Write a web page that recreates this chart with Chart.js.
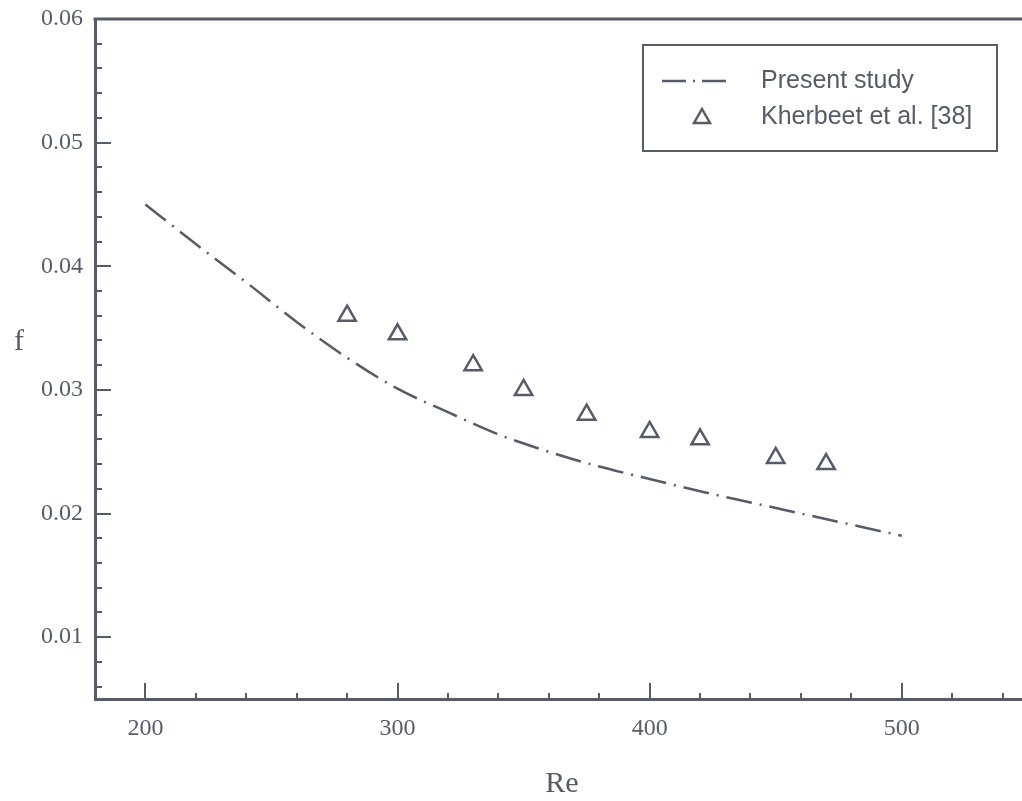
<!DOCTYPE html>
<html>
<head>
<meta charset="utf-8">
<script src="https://cdn.jsdelivr.net/npm/chart.js@4.4.1/dist/chart.umd.min.js"></script>
<style>
    html, body { margin: 0; padding: 0; background: #fff; overflow: hidden; }
    #recorte { width: 1022px; height: 801px; overflow: hidden; }
    #caixa { width: 1080px; height: 801px; position: relative; }
</style>
</head>
<body>
<div id="recorte"><div id="caixa"><canvas id="grafico-f"></canvas></div></div>
<script>
// curva do presente estudo
const reEstudo = [200, 220, 240, 260, 280, 300, 320, 340, 360, 380, 400, 420, 440, 460, 480, 500];
const fEstudo = [0.0450, 0.0418, 0.0387, 0.0355, 0.0326, 0.0301, 0.0282, 0.0264, 0.0250, 0.0238,
                 0.0228, 0.0218, 0.0209, 0.0200, 0.0191, 0.0182];

// pontos de Kherbeet et al.
const reKherbeet = [280, 300, 330, 350, 375, 400, 420, 450, 470];
const fKherbeet = [0.0360, 0.0345, 0.0320, 0.0300, 0.0280, 0.0266, 0.0260, 0.0245, 0.0240];

const ticksRe = [200, 300, 400, 500];
const ticksF = [0.01, 0.02, 0.03, 0.04, 0.05, 0.06];

const legendas = ["Present study", "Kherbeet et al. [38]"];

const cor = "#575b68";
const serif = "'Liberation Serif', 'Times New Roman', serif";
const sans = "'Liberation Sans', Arial, sans-serif";

// moldura superior, marcas internas, titulos dos eixos e legenda
const molduraPlugin = {
    id: "moldura",
    afterDraw(chart) {
        const { ctx, chartArea: a, scales: { x, y } } = chart;
        ctx.save();
        ctx.strokeStyle = cor;
        ctx.fillStyle = cor;

        ctx.lineWidth = 3;
        ctx.beginPath();
        ctx.moveTo(a.left - 1.5, a.top);
        ctx.lineTo(a.right, a.top);
        ctx.stroke();

        ctx.lineWidth = 2;
        for (let v = 200; v <= 560; v += 20) {
            const px = Math.round(x.getPixelForValue(v));
            const len = ticksRe.includes(v) ? 16 : 6;
            ctx.beginPath();
            ctx.moveTo(px, a.bottom);
            ctx.lineTo(px, a.bottom - len);
            ctx.stroke();
        }
        for (let i = 6; i <= 58; i += 2) {
            const py = Math.round(y.getPixelForValue(i / 1000));
            const len = i % 10 === 0 ? 16 : 7;
            ctx.beginPath();
            ctx.moveTo(a.left, py);
            ctx.lineTo(a.left + len, py);
            ctx.stroke();
        }

        // titulos dos eixos
        ctx.textAlign = "center";
        ctx.textBaseline = "middle";
        ctx.font = "30px " + serif;
        ctx.fillText("f", 19, 342);
        ctx.fillText("Re", 562, 784);

        // legenda
        ctx.lineWidth = 2;
        ctx.strokeRect(643, 45, 354, 106);
        ctx.lineWidth = 2.5;
        ctx.setLineDash([24, 7, 2, 7]);
        ctx.beginPath();
        ctx.moveTo(662, 81);
        ctx.lineTo(729, 81);
        ctx.stroke();
        ctx.setLineDash([]);
        ctx.beginPath();
        ctx.moveTo(702, 109);
        ctx.lineTo(710, 123);
        ctx.lineTo(694, 123);
        ctx.closePath();
        ctx.stroke();

        ctx.textAlign = "left";
        ctx.font = "25px " + sans;
        ctx.fillText(legendas[0], 761, 81);
        ctx.fillText(legendas[1], 761, 117);
        ctx.restore();
    }
};

new Chart(document.getElementById("grafico-f"), {
    type: "line",
    data: {
        datasets: [{
            label: legendas[0],
            data: reEstudo.map((r, i) => ({ x: r, y: fEstudo[i] })),
            borderColor: cor,
            borderWidth: 2.5,
            borderDash: [26, 8, 2, 8],
            pointRadius: 0,
            cubicInterpolationMode: "monotone",
            fill: false
        }, {
            label: legendas[1],
            data: reKherbeet.map((r, i) => ({ x: r, y: fKherbeet[i] })),
            showLine: false,
            pointStyle: "triangle",
            pointRadius: 10,
            pointBorderWidth: 2.5,
            pointBorderColor: cor,
            pointBackgroundColor: "rgba(0,0,0,0)"
        }]
    },
    options: {
        responsive: true,
        maintainAspectRatio: false,
        animation: false,
        layout: { padding: { top: 19, right: 27, left: 0, bottom: 0 } },
        plugins: {
            legend: { display: false },
            tooltip: { enabled: false }
        },
        scales: {
            x: {
                type: "linear",
                min: 180,
                max: 560,
                afterFit: s => { s.height = 102; s.paddingLeft = 0; s.paddingRight = 0; },
                afterBuildTicks: s => { s.ticks = ticksRe.map(v => ({ value: v })); },
                grid: { display: false, drawTicks: false },
                border: { display: true, color: cor, width: 3 },
                ticks: {
                    color: cor,
                    padding: 15,
                    font: { family: serif, size: 24 }
                }
            },
            y: {
                type: "linear",
                min: 0.005,
                max: 0.06,
                afterFit: s => { s.width = 95; s.paddingTop = 0; s.paddingBottom = 0; },
                afterBuildTicks: s => { s.ticks = ticksF.map(v => ({ value: v })); },
                grid: { display: false, drawTicks: false },
                border: { display: true, color: cor, width: 3 },
                ticks: {
                    color: cor,
                    padding: 12,
                    font: { family: serif, size: 24 },
                    callback: v => v.toFixed(2)
                }
            }
        }
    },
    plugins: [molduraPlugin]
});
</script>
</body>
</html>
